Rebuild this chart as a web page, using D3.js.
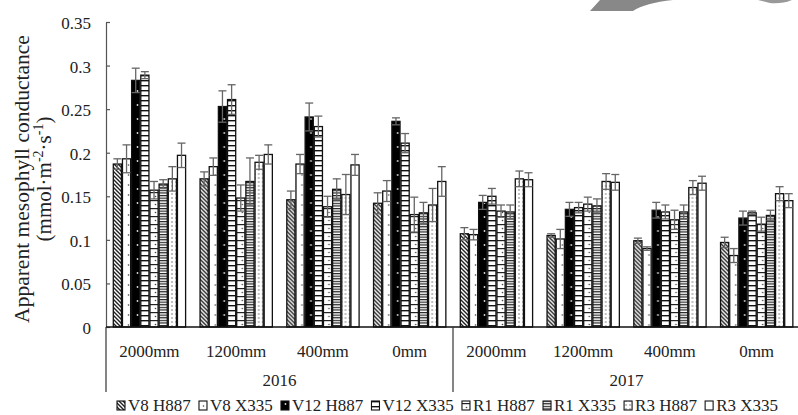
<!DOCTYPE html>
<html>
<head>
<meta charset="utf-8">
<script src="https://cdn.jsdelivr.net/npm/d3@7"></script>
<style>
  html, body { margin: 0; padding: 0; background: #fff; }
  svg { display: block; }
  text { font-family: "Liberation Serif", "Times New Roman", serif; fill: #222; }
</style>
</head>
<body>
<svg id="chart" width="798" height="415"></svg>
<script>
// ---------------- data ----------------
const years = ["2016", "2017"];
const rainfall = ["2000mm", "1200mm", "400mm", "0mm"];
const seriesNames = ["V8 H887", "V8 X335", "V12 H887", "V12 X335", "R1 H887", "R1 X335", "R3 H887", "R3 X335"];
const yTicks = [0, 0.05, 0.1, 0.15, 0.2, 0.25, 0.3, 0.35];
const yTickLabels = ["0", "0.05", "0.1", "0.15", "0.2", "0.25", "0.3", "0.35"];

// values per series, groups ordered 2016 (2000,1200,400,0mm) then 2017 (2000,1200,400,0mm)
const v8H887  = [0.187, 0.170, 0.146, 0.142, 0.107, 0.105, 0.099, 0.097];
const v8X335  = [0.193, 0.184, 0.187, 0.156, 0.106, 0.101, 0.090, 0.082];
const v12H887 = [0.283, 0.253, 0.241, 0.236, 0.143, 0.135, 0.134, 0.125];
const v12X335 = [0.289, 0.261, 0.230, 0.211, 0.150, 0.137, 0.132, 0.131];
const r1H887  = [0.157, 0.148, 0.138, 0.129, 0.133, 0.141, 0.123, 0.118];
const r1X335  = [0.164, 0.167, 0.158, 0.131, 0.132, 0.139, 0.132, 0.128];
const r3H887  = [0.170, 0.189, 0.152, 0.140, 0.170, 0.167, 0.160, 0.153];
const r3X335  = [0.197, 0.198, 0.186, 0.167, 0.169, 0.166, 0.165, 0.145];

const v8H887Err  = [0.006, 0.008, 0.010, 0.012, 0.007, 0.002, 0.003, 0.006];
const v8X335Err  = [0.016, 0.010, 0.011, 0.012, 0.006, 0.011, 0.002, 0.008];
const v12H887Err = [0.014, 0.018, 0.016, 0.004, 0.008, 0.008, 0.009, 0.008];
const v12X335Err = [0.004, 0.017, 0.012, 0.011, 0.009, 0.006, 0.008, 0.002];
const r1H887Err  = [0.010, 0.015, 0.012, 0.020, 0.007, 0.008, 0.011, 0.008];
const r1X335Err  = [0.005, 0.027, 0.012, 0.012, 0.008, 0.008, 0.008, 0.006];
const r3H887Err  = [0.014, 0.008, 0.023, 0.019, 0.009, 0.009, 0.008, 0.008];
const r3X335Err  = [0.014, 0.011, 0.012, 0.017, 0.008, 0.009, 0.008, 0.008];

const seriesValues = [v8H887, v8X335, v12H887, v12X335, r1H887, r1X335, r3H887, r3X335];
const seriesErrors = [v8H887Err, v8X335Err, v12H887Err, v12X335Err, r1H887Err, r1X335Err, r3H887Err, r3X335Err];

// ---------------- layout ----------------
const svg = d3.select("#chart");
const plotL = 106, plotR = 800, plotT = 22, plotB = 327;

const groupKeys = [];
years.forEach(yr => rainfall.forEach(r => groupKeys.push(yr + "|" + r)));

const x0 = d3.scaleBand().domain(groupKeys).range([plotL, plotR]).padding(0);
const x1 = d3.scaleBand().domain(seriesNames).range([7.3, 79.6]).paddingInner(0.11);
const yScale = d3.scaleLinear().domain([0, 0.35]).range([plotB, plotT]);

// ---------------- patterns ----------------
const defs = svg.append("defs");
function pat(id, w, h, build) {
  const p = defs.append("pattern").attr("id", id).attr("patternUnits", "userSpaceOnUse")
    .attr("width", w).attr("height", h);
  build(p);
}
pat("p0", 4, 4, p => {
  p.append("rect").attr("width", 4).attr("height", 4).attr("fill", "#fff");
  p.append("path").attr("d", "M-1,-1 L5,5 M-1,3 L1,5 M3,-1 L5,1").attr("stroke", "#222").attr("stroke-width", 1.4);
});
pat("p1", 9, 10, p => {
  p.append("rect").attr("width", 9).attr("height", 10).attr("fill", "#fff");
  p.append("circle").attr("cx", 4.5).attr("cy", 5).attr("r", 0.8).attr("fill", "#444");
});
pat("p2", 9, 14, p => {
  p.append("rect").attr("width", 9).attr("height", 14).attr("fill", "#000");
  p.append("circle").attr("cx", 4.5).attr("cy", 7).attr("r", 0.9).attr("fill", "#ddd");
});
pat("p3", 9, 5, p => {
  p.append("rect").attr("width", 9).attr("height", 5).attr("fill", "#fff");
  p.append("rect").attr("y", 0).attr("width", 9).attr("height", 1.4).attr("fill", "#111");
});
pat("p4", 9, 8, p => {
  p.append("rect").attr("width", 9).attr("height", 8).attr("fill", "#fff");
  p.append("rect").attr("y", 0).attr("width", 9).attr("height", 1.2).attr("fill", "#222");
  p.append("circle").attr("cx", 4.5).attr("cy", 4.5).attr("r", 0.8).attr("fill", "#444");
});
pat("p5", 9, 2.6, p => {
  p.append("rect").attr("width", 9).attr("height", 2.6).attr("fill", "#fff");
  p.append("rect").attr("y", 0).attr("width", 9).attr("height", 1.2).attr("fill", "#222");
});
pat("p6", 4, 4, p => {
  p.append("rect").attr("width", 4).attr("height", 4).attr("fill", "#fff");
  p.append("circle").attr("cx", 2).attr("cy", 2).attr("r", 0.7).attr("fill", "#555");
});
pat("p7", 4, 4, p => {
  p.append("rect").attr("width", 4).attr("height", 4).attr("fill", "#fff");
});
const fills = seriesNames.map((s, i) => "url(#p" + i + ")");

// ---------------- watermark decoration ----------------
svg.append("path").attr("d", "M590,11 L600,0 L673,0 Q645,3 633,11 Z").attr("fill", "#888");
svg.append("path").attr("d", "M758,0 L792,0 Q782,4 770,3 Z").attr("fill", "#999");

// ---------------- bars ----------------
const groups = svg.append("g").selectAll("g").data(groupKeys).join("g")
  .attr("transform", d => `translate(${x0(d)},0)`);

groups.each(function(gk, gi) {
  const g = d3.select(this);
  seriesNames.forEach((s, si) => {
    const v = seriesValues[si][gi];
    const e = seriesErrors[si][gi];
    const bx = x1(s), bw = x1.bandwidth();
    g.append("rect")
      .attr("x", bx).attr("y", yScale(v))
      .attr("width", bw).attr("height", yScale(0) - yScale(v))
      .attr("fill", fills[si]).attr("stroke", "#111").attr("stroke-width", 1.3);
    const cx = bx + bw / 2;
    const eg = g.append("g").attr("stroke", "#666").attr("stroke-width", 1.3).attr("fill", "none");
    eg.append("line").attr("x1", cx).attr("x2", cx).attr("y1", yScale(v + e)).attr("y2", yScale(v - e));
    eg.append("line").attr("x1", cx - 4).attr("x2", cx + 4).attr("y1", yScale(v + e)).attr("y2", yScale(v + e));
    eg.append("line").attr("x1", cx - 4).attr("x2", cx + 4).attr("y1", yScale(v - e)).attr("y2", yScale(v - e));
  });
});

// ---------------- y axis ----------------
const yAxis = d3.axisLeft(yScale).tickValues(yTicks).tickFormat((d, i) => yTickLabels[i])
  .tickSizeInner(-4).tickSizeOuter(0).tickPadding(15);
const ya = svg.append("g").attr("transform", `translate(${plotL},0)`).call(yAxis);
ya.select(".domain").attr("stroke", "#555").attr("stroke-width", 1.2);
ya.selectAll(".tick line").attr("stroke", "#555").attr("stroke-width", 1.2);
ya.selectAll(".tick text").attr("font-size", 17).attr("fill", "#222")
  .style("font-family", "'Liberation Serif', serif").attr("dy", "0.38em");

// y title
const titleG = svg.append("g").attr("transform", "translate(0,179) rotate(-90)");
titleG.append("text").attr("x", 0).attr("y", 29).attr("text-anchor", "middle")
  .attr("font-size", 21.5).text("Apparent mesophyll conductance");
const t2 = titleG.append("text").attr("x", 0).attr("y", 51).attr("text-anchor", "middle").attr("font-size", 21);
t2.append("tspan").text("(mmol·m");
t2.append("tspan").attr("dy", -8).attr("font-size", 14).text("-2");
t2.append("tspan").attr("dy", 8).text("·s");
t2.append("tspan").attr("dy", -8).attr("font-size", 14).text("-1");
t2.append("tspan").attr("dy", 8).text(")");

// ---------------- x axis ----------------
svg.append("line").attr("x1", plotL).attr("x2", plotR).attr("y1", plotB).attr("y2", plotB)
  .attr("stroke", "#111").attr("stroke-width", 1.5);
const yearScale = d3.scaleBand().domain(years).range([plotL, plotR]);
years.forEach(yr => {
  svg.append("line").attr("x1", yearScale(yr)).attr("x2", yearScale(yr))
    .attr("y1", plotB).attr("y2", 392).attr("stroke", "#333").attr("stroke-width", 1.2);
});
svg.append("g").selectAll("text").data(groupKeys).join("text")
  .attr("x", d => x0(d) + x0.bandwidth() / 2).attr("y", 357)
  .attr("text-anchor", "middle").attr("font-size", 17)
  .text(d => d.split("|")[1]);
svg.append("g").selectAll("text").data(years).join("text")
  .attr("x", d => yearScale(d) + yearScale.bandwidth() / 2).attr("y", 386)
  .attr("text-anchor", "middle").attr("font-size", 17)
  .text(d => d);

// ---------------- legend ----------------
const leg = svg.append("g");
const items = seriesNames.map((s, i) => {
  const gi = leg.append("g");
  gi.append("rect").attr("x", 0).attr("y", -10).attr("width", 8).attr("height", 9)
    .attr("fill", fills[i]).attr("stroke", "#111").attr("stroke-width", 1.1);
  const t = gi.append("text").attr("x", 11).attr("y", 0).attr("font-size", 17).text(s);
  return { g: gi, w: 11 + t.node().getComputedTextLength() };
});
const legStart = 117, legEnd = 778;
const totalW = d3.sum(items, d => d.w);
const gap = (legEnd - legStart - totalW) / (items.length - 1);
let legX = legStart;
items.forEach(it => {
  it.g.attr("transform", `translate(${legX},411)`);
  legX += it.w + gap;
});
</script>
</body>
</html>
